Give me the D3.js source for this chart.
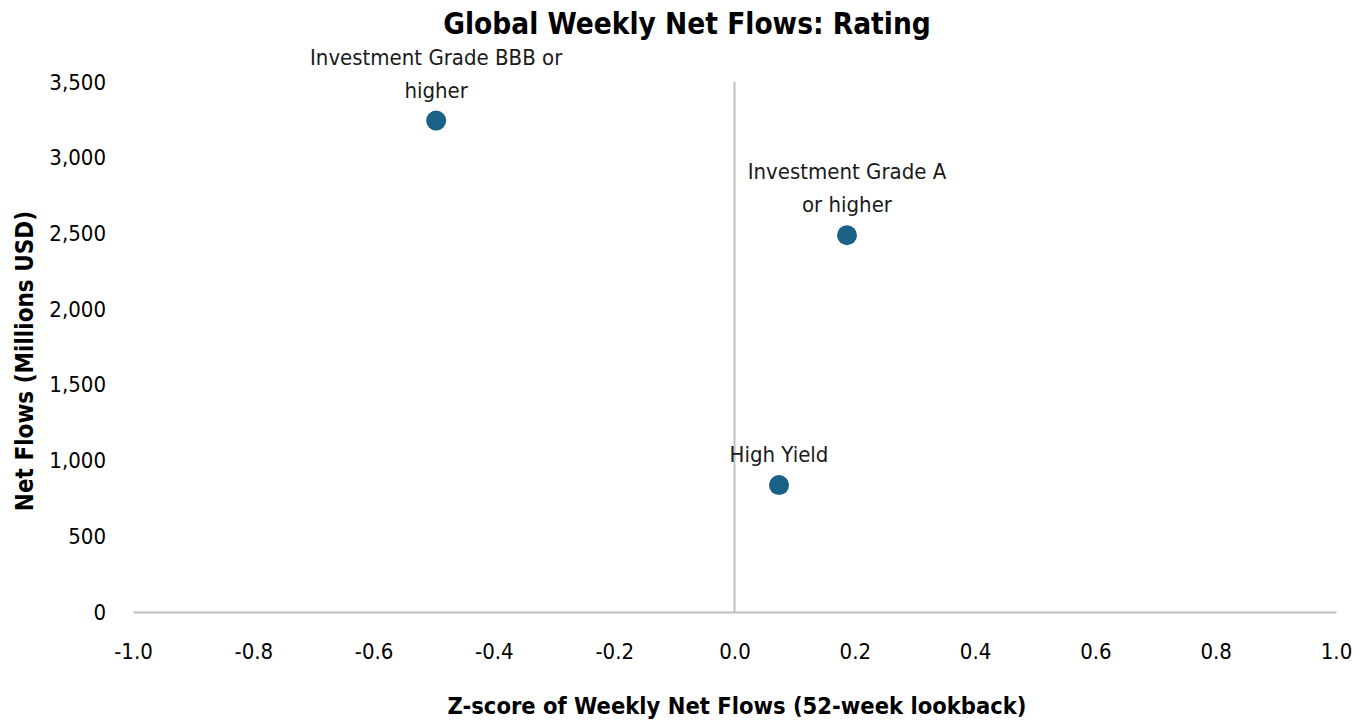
<!DOCTYPE html>
<html>
<head>
<meta charset="utf-8">
<title>Global Weekly Net Flows: Rating</title>
<script src="https://cdn.jsdelivr.net/npm/d3@7"></script>
<style>
  body { margin: 0; background: #fff; }
  text { font-family: "Liberation Sans Narrow", "DejaVu Sans Condensed", sans-serif; }
</style>
</head>
<body>
<svg id="chart" width="1368" height="723"></svg>
<script>
// data
var names = ["Investment Grade BBB or higher", "Investment Grade A or higher", "High Yield"];
var labelLines = [["Investment Grade BBB or", "higher"], ["Investment Grade A", "or higher"], ["High Yield"]];
var zScores = [-0.496, 0.187, 0.074];
var netFlows = [3245, 2488, 838];
var xTicks = [-1.0, -0.8, -0.6, -0.4, -0.2, 0.0, 0.2, 0.4, 0.6, 0.8, 1.0];
var yTicks = [0, 500, 1000, 1500, 2000, 2500, 3000, 3500];

var svg = d3.select("#chart"),
    margin = {top: 82, right: 32, bottom: 111, left: 133},
    width = +svg.attr("width") - margin.left - margin.right,
    height = +svg.attr("height") - margin.top - margin.bottom,
    g = svg.append("g").attr("transform", "translate(" + margin.left + "," + margin.top + ")");

var x = d3.scaleLinear().domain([-1, 1]).range([0, width]);
var y = d3.scaleLinear().domain([0, 3500]).range([height, 0]);

var data = names.map(function(n, i) {
  return {name: n, lines: labelLines[i], z: zScores[i], flow: netFlows[i]};
});

// plain hyphen for negatives, like the original
var fmtX = function(d) { return d3.format(".1f")(d).replace("\u2212", "-"); };

// x axis at y = 0
var xAxis = g.append("g")
    .attr("transform", "translate(0," + y(0) + ")")
    .call(d3.axisBottom(x).tickValues(xTicks).tickFormat(fmtX).tickSize(0).tickPadding(31));
xAxis.select(".domain").attr("stroke", "#bfbfbf").attr("stroke-width", 2);
xAxis.selectAll("text").attr("font-size", 22).attr("fill", "#000");

// y axis, labels only
var yAxis = g.append("g")
    .call(d3.axisLeft(y).tickValues(yTicks).tickFormat(d3.format(",")).tickSize(0).tickPadding(27));
yAxis.select(".domain").remove();
yAxis.selectAll("text").attr("font-size", 22).attr("fill", "#000");

// vertical zero line
g.append("line")
    .attr("x1", x(0)).attr("x2", x(0))
    .attr("y1", y(3500)).attr("y2", y(0))
    .attr("stroke", "#bfbfbf").attr("stroke-width", 2);

// points
g.selectAll("circle.pt")
  .data(data)
  .enter().append("circle")
    .attr("class", "pt")
    .attr("cx", function(d) { return x(d.z); })
    .attr("cy", function(d) { return y(d.flow); })
    .attr("r", 10)
    .attr("fill", "#1a6186");

// labels
var lab = g.selectAll("text.lab")
  .data(data)
  .enter().append("text")
    .attr("class", "lab")
    .attr("text-anchor", "middle")
    .attr("font-size", 22)
    .attr("fill", "#1a1a1a")
    .attr("x", function(d) { return x(d.z); })
    .attr("y", function(d) { return y(d.flow) - 23 - (d.lines.length - 1) * 33; });
lab.selectAll("tspan")
  .data(function(d) { return d.lines.map(function(l) { return {t: l, x: x(d.z)}; }); })
  .enter().append("tspan")
    .attr("x", function(d) { return d.x; })
    .attr("dy", function(d, i) { return i ? 33 : 0; })
    .text(function(d) { return d.t; });

// title
svg.append("text")
    .attr("x", 687).attr("y", 34)
    .attr("text-anchor", "middle")
    .attr("font-size", 29.5).attr("font-weight", "bold")
    .text("Global Weekly Net Flows: Rating");

// axis titles
svg.append("text")
    .attr("x", 737).attr("y", 714)
    .attr("text-anchor", "middle")
    .attr("font-size", 23.5).attr("font-weight", "bold")
    .text("Z-score of Weekly Net Flows (52-week lookback)");

svg.append("text")
    .attr("transform", "translate(33,361) rotate(-90)")
    .attr("text-anchor", "middle")
    .attr("font-size", 24).attr("font-weight", "bold")
    .text("Net Flows (Millions USD)");
</script>
</body>
</html>
